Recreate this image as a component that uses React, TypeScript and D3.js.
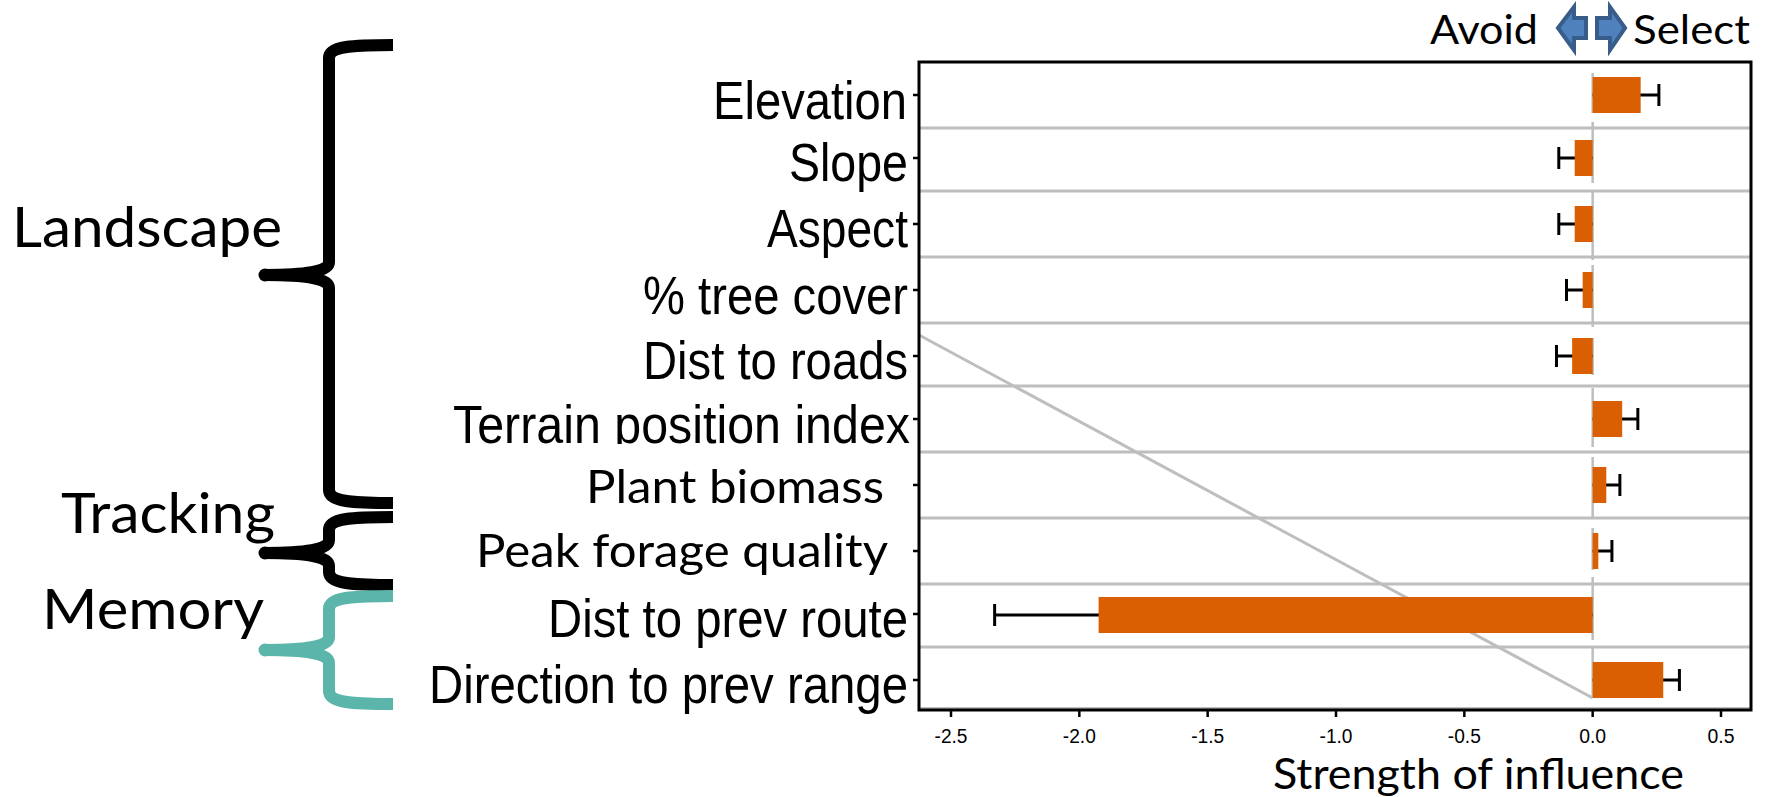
import React from "react";
import * as d3 from "d3";

const categories = ["Elevation","Slope","Aspect","% tree cover","Dist to roads","Terrain position index","Plant biomass","Peak forage quality","Dist to prev route","Direction to prev range"];
const estimates = [0.187,-0.07,-0.07,-0.039,-0.08,0.115,0.053,0.022,-1.925,0.275];
const errorEnds = [0.258,-0.132,-0.132,-0.102,-0.141,0.176,0.106,0.075,-2.33,0.338];
const xTicks = [-2.5,-2,-1.5,-1,-0.5,0,0.5];
const W = 1765, H = 797;
const left = 919, right = 1751, top = 62, bottom = 710;
const x = d3.scaleLinear().domain([-2.5,0.5]).range([951,1721]);
const yCenters = [95,158,224,290,356,419,485,551,615,680];
const tickYs = [95,158,224,290,356,419,485,551,614,680];
const gridYs = [128,191,257,323,386,452,518,584,647];
const labelEnd = [907,908,908,908,908,910,884,888,908,908];
const labelW = [194,119,141,265,265,457,298,412,360,479];
const labelBase = [119,181,247,314,379,443,503,567,637,703];
const zeroSegments = [[73,113],[122,183],[190,260],[265,327],[338,375],[388,447],[457,518],[528,570],[577,640],[648,698]];
const sans = new Set(["Plant biomass","Peak forage quality"]);

function brace(x0:number,xs:number,xe:number,y0:number,ym:number,y1:number){
  const p=d3.path();
  p.moveTo(xe,y0);
  p.bezierCurveTo(xs+24,y0,xs,y0+1,xs,y0+13);
  p.lineTo(xs,ym-13);
  p.bezierCurveTo(xs,ym-3,xs-25,ym,x0,ym);
  p.bezierCurveTo(xs-25,ym,xs,ym+3,xs,ym+13);
  p.lineTo(xs,y1-13);
  p.bezierCurveTo(xs,y1-1,xs+24,y1,xe,y1);
  return p.toString();
}

function Brace({y0,ym,y1,color}:{y0:number,ym:number,y1:number,color:string}){
  return <g>
    <path d={brace(265,329,393,y0,ym,y1)} fill="none" stroke={color} strokeWidth={12}/>
    <circle cx={265} cy={ym} r={6.5} fill={color}/>
  </g>;
}

export default function App(){
  return <svg width={W} height={H} style={{position:"absolute",left:0,top:0,background:"#fff"}}>
    <defs><clipPath id="terrain"><rect x="400" y="380" width="520" height="64"/></clipPath></defs>
    {gridYs.map(g=><line key={g} x1={left} x2={right} y1={g} y2={g} stroke="#bebebe" strokeWidth={3}/>)}
    <line x1={left} x2={right} y1={708} y2={708} stroke="#bebebe" strokeWidth={2}/>
    <line x1={left} y1={335} x2={x(0)} y2={698} stroke="#bebebe" strokeWidth={3}/>
    {zeroSegments.map(s=><line key={s[0]} x1={x(0)} x2={x(0)} y1={s[0]} y2={s[1]} stroke="#bebebe" strokeWidth={2.5}/>)}
    {categories.map((c,i)=>{const cy=yCenters[i];const e=estimates[i];const q=errorEnds[i];return <g key={c}>
      <line x1={x(0)} x2={x(q)} y1={cy} y2={cy} stroke="#000" strokeWidth={3}/>
      <line x1={x(q)} x2={x(q)} y1={cy-11} y2={cy+11} stroke="#000" strokeWidth={3}/>
      <rect x={Math.min(x(0),x(e))} y={cy-18} width={Math.abs(x(e)-x(0))} height={36} fill="#d95f02"/>
      <line x1={913} x2={left} y1={tickYs[i]} y2={tickYs[i]} stroke="#000" strokeWidth={2.5}/>
      <g clipPath={i===5?"url(#terrain)":undefined}>
      <text x={labelEnd[i]} y={labelBase[i]} textAnchor="end" textLength={labelW[i]} lengthAdjust="spacingAndGlyphs"
        fontFamily={sans.has(c)?"Lato":"Liberation Sans"} fontSize={sans.has(c)?47:54}>{c}</text>
      </g>
    </g>})}
    <rect x={left} y={top} width={right-left} height={bottom-top} fill="none" stroke="#000" strokeWidth={3}/>
    {xTicks.map(t=><g key={t}>
      <line x1={x(t)} x2={x(t)} y1={bottom} y2={bottom+7} stroke="#000" strokeWidth={2.5}/>
      <text x={x(t)} y={bottom+33} textAnchor="middle" fontFamily="Liberation Sans" fontSize={19.5} textLength={t<0?33:27} lengthAdjust="spacingAndGlyphs">{t.toFixed(1)}</text>
    </g>)}
    <text x={1273} y={789} fontFamily="Lato" fontSize={43} textLength={411} lengthAdjust="spacingAndGlyphs">Strength of influence</text>
    <text x={1430} y={44} fontFamily="Lato" fontSize={41} textLength={108} lengthAdjust="spacingAndGlyphs">Avoid</text>
    <text x={1633} y={44} fontFamily="Lato" fontSize={41} textLength={117} lengthAdjust="spacingAndGlyphs">Select</text>
    <path d="M1558 28 L1574 7 L1574 18 L1586 18 L1586 38 L1574 38 L1574 50 Z" fill="#4f81bd" stroke="#385d8a" strokeWidth={4}/>
    <path d="M1625 28 L1610 7 L1610 18 L1597 18 L1597 38 L1610 38 L1610 50 Z" fill="#4f81bd" stroke="#385d8a" strokeWidth={4}/>
    <text x={12} y={247} fontFamily="Lato" fontSize={56} textLength={270} lengthAdjust="spacingAndGlyphs">Landscape</text>
    <text x={61} y={533} fontFamily="Lato" fontSize={56} textLength={214} lengthAdjust="spacingAndGlyphs">Tracking</text>
    <text x={42} y={629} fontFamily="Lato" fontSize={56} textLength={222} lengthAdjust="spacingAndGlyphs">Memory</text>
    <Brace y0={45} ym={275} y1={503} color="#000"/>
    <Brace y0={517} ym={553} y1={585} color="#000"/>
    <Brace y0={596} ym={650} y1={704} color="#5bb5aa"/>
  </svg>;
}
